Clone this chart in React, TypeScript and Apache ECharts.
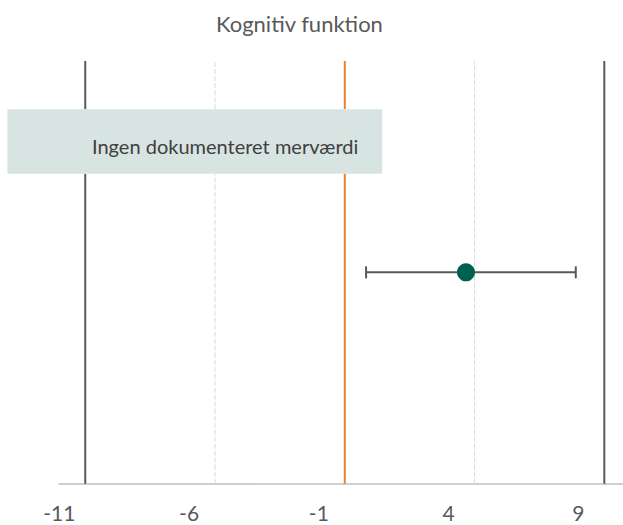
import React, { useEffect, useRef } from "react";
import * as echarts from "echarts";

const chartTitle = "Kognitiv funktion";
const xTickLabels = [-11, -6, -1, 4, 9];
const xMin = -11;
const xMax = 10.72;
const boundaryLines = [-10, 10];
const dashedLines = [-5, 5];
const zeroLine = [0];
const pointEstimate = [4.67];
const ciLow = [0.82];
const ciHigh = [8.9];
const rowY = [0.5];
// x from, x to, y from, y to
const zoneX = [-13, 1.44];
const zoneY = [0.733, 0.886];
const zoneText = "Ingen dokumenteret merværdi";
const zoneTextPos = [-4.61, 0.798];

const FONT = "Lato";
const TEXT = "#595959";

export default function App() {
  const ref = useRef<HTMLDivElement>(null);
  useEffect(() => {
    if (!ref.current) return;
    const chart = echarts.init(ref.current, null, { renderer: "svg" });
    const ciData = pointEstimate.map((v, i) => [ciLow[i], ciHigh[i], rowY[i]]);
    // reference line segments: [x, yFrom, yTo, kind]; lines are hidden behind the zone box
    const segs: number[][] = [];
    const addLine = (x: number, kind: number) => {
      if (x >= zoneX[0] && x <= zoneX[1]) {
        segs.push([x, 0, zoneY[0], kind]);
        segs.push([x, zoneY[1], 1, kind]);
      } else {
        segs.push([x, 0, 1, kind]);
      }
    };
    boundaryLines.forEach((x) => addLine(x, 0));
    dashedLines.forEach((x) => addLine(x, 1));
    zeroLine.forEach((x) => addLine(x, 2));
    const lineStyles = [
      { stroke: "#595959", lineWidth: 2 },
      { stroke: "#d9d9d9", lineWidth: 1, lineDash: [5, 2] },
      { stroke: "#ed7d31", lineWidth: 2 },
    ];
    chart.setOption({
      animation: false,
      title: {
        text: chartTitle,
        left: 211,
        top: 7,
        textStyle: { fontFamily: FONT, fontSize: 22, fontWeight: "normal", color: TEXT },
      },
      grid: { left: 59.3, right: 0, top: 61, bottom: 41.3, containLabel: false },
      xAxis: {
        type: "value",
        min: xMin,
        max: xMax,
        splitLine: { show: false },
        axisTick: { show: false },
        axisLine: { show: true, lineStyle: { color: "#bfbfbf", width: 1.5 } },
        axisLabel: {
          customValues: xTickLabels,
          fontFamily: FONT,
          fontSize: 21,
          color: TEXT,
          margin: 18,
        },
      },
      yAxis: { type: "value", min: 0, max: 1, show: false },
      series: [
        {
          type: "custom",
          silent: true,
          data: segs,
          renderItem: (params: any, api: any) => {
            const a = api.coord([api.value(0), api.value(1)]);
            const b = api.coord([api.value(0), api.value(2)]);
            return {
              type: "line",
              shape: { x1: a[0], y1: a[1], x2: b[0], y2: b[1] },
              style: lineStyles[api.value(3)],
            };
          },
        },
        {
          type: "custom",
          clip: false,
          silent: true,
          data: [[zoneX[0], zoneX[1], zoneY[0], zoneY[1]]],
          renderItem: (params: any, api: any) => {
            const p0 = api.coord([api.value(0), api.value(3)]);
            const p1 = api.coord([api.value(1), api.value(2)]);
            const t = api.coord(zoneTextPos);
            return {
              type: "group",
              children: [
                {
                  type: "rect",
                  shape: { x: p0[0], y: p0[1], width: p1[0] - p0[0], height: p1[1] - p0[1] },
                  style: { fill: "#d7e4e1" },
                },
                {
                  type: "text",
                  x: t[0],
                  y: t[1],
                  style: {
                    text: zoneText,
                    fontFamily: FONT,
                    fontSize: 20,
                    fill: "#404040",
                    align: "center",
                    verticalAlign: "middle",
                  },
                },
              ],
            };
          },
        },
        {
          type: "custom",
          silent: true,
          data: ciData,
          renderItem: (params: any, api: any) => {
            const a = api.coord([api.value(0), api.value(2)]);
            const b = api.coord([api.value(1), api.value(2)]);
            const cap = 6;
            const st = { stroke: "#595959", lineWidth: 2 };
            return {
              type: "group",
              children: [
                { type: "line", shape: { x1: a[0], y1: a[1], x2: b[0], y2: b[1] }, style: st },
                { type: "line", shape: { x1: a[0], y1: a[1] - cap, x2: a[0], y2: a[1] + cap }, style: st },
                { type: "line", shape: { x1: b[0], y1: b[1] - cap, x2: b[0], y2: b[1] + cap }, style: st },
              ],
            };
          },
        },
        {
          type: "scatter",
          z: 12,
          silent: true,
          symbol: "circle",
          symbolSize: 18,
          itemStyle: { color: "#00604f", opacity: 1 },
          data: pointEstimate.map((v, i) => [v, rowY[i]]),
        },
      ],
    });
    return () => chart.dispose();
  }, []);
  return (
    <div
      ref={ref}
      style={{ position: "fixed", left: 0, top: 0, width: 623, height: 525, background: "#ffffff" }}
    />
  );
}
